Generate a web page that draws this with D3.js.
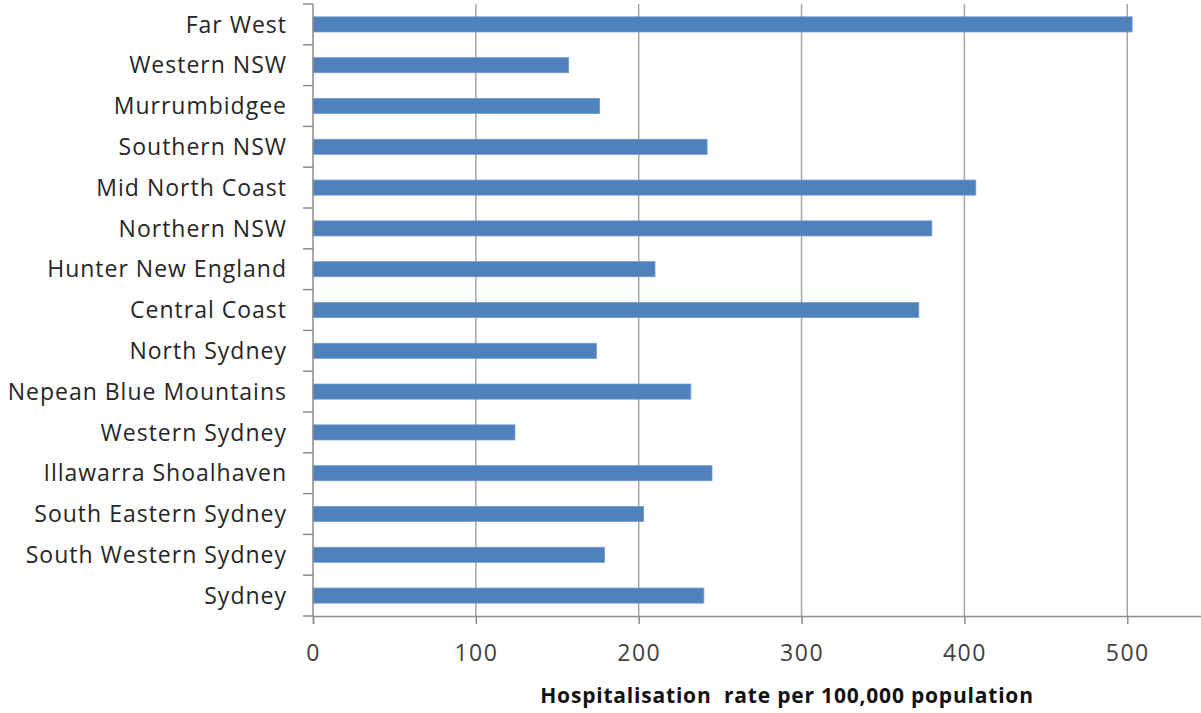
<!DOCTYPE html>
<html>
<head>
<meta charset="utf-8">
<script src="https://cdn.jsdelivr.net/npm/d3@7"></script>
<style>
  html, body { margin: 0; padding: 0; background: #fff; }
  svg { display: block; }
</style>
</head>
<body>
<svg id="chart" width="1201" height="713"></svg>
<script>
// Local Health Districts, top to bottom
const districts = [
  "Far West", "Western NSW", "Murrumbidgee", "Southern NSW", "Mid North Coast",
  "Northern NSW", "Hunter New England", "Central Coast", "North Sydney",
  "Nepean Blue Mountains", "Western Sydney", "Illawarra Shoalhaven",
  "South Eastern Sydney", "South Western Sydney", "Sydney"
];
// Hospitalisation rate per 100,000 population
const rates = [503, 157, 176, 242, 407, 380, 210, 372, 174, 232, 124, 245, 203, 179, 240];
const xTicks = [0, 100, 200, 300, 400, 500];
const xTitle = "Hospitalisation  rate per 100,000 population";

(function () {
  const data = districts.map((d, i) => ({ name: d, value: rates[i] }));

  const svg = d3.select("#chart");
  const plotLeft = 313, plotTop = 4, plotBottom = 616;

  const x = d3.scaleLinear().domain([0, 600]).range([plotLeft, plotLeft + 600 * 1.6285]);
  const y = d3.scaleBand().domain(districts).range([plotTop, plotBottom])
    .paddingInner(0.63).paddingOuter(0.315);

  const axisColor = "#8c8c8c";
  const font = "'Open Sans', 'Noto Sans', sans-serif";

  // vertical gridlines
  svg.append("g").selectAll("line")
    .data(xTicks.filter(t => t > 0))
    .join("line")
    .attr("x1", d => x(d)).attr("x2", d => x(d))
    .attr("y1", plotTop).attr("y2", plotBottom)
    .attr("stroke", "#a6a6a6").attr("stroke-width", 1.5);

  // bars
  svg.append("g").selectAll("rect")
    .data(data)
    .join("rect")
    .attr("x", x(0))
    .attr("y", d => y(d.name))
    .attr("width", d => x(d.value) - x(0))
    .attr("height", y.bandwidth())
    .attr("fill", "#4f81bd")
    .attr("stroke", "#6f9bd0")
    .attr("stroke-width", 0.8);

  // x axis
  const xAxis = d3.axisBottom(x).tickValues(xTicks).tickSize(8).tickPadding(21).tickFormat(d3.format("d"));
  const gx = svg.append("g").attr("transform", `translate(0,${plotBottom})`).call(xAxis);
  gx.select(".domain").attr("stroke", axisColor).attr("stroke-width", 1.5);
  gx.selectAll(".tick line").attr("stroke", axisColor).attr("stroke-width", 1.5);
  gx.selectAll(".tick text")
    .attr("font-family", font).attr("font-size", 23).attr("letter-spacing", 1.5)
    .attr("fill", "#404040");

  // y axis with ticks at band boundaries
  const bounds = d3.range(districts.length + 1)
    .map(i => plotTop + i * (plotBottom - plotTop) / districts.length);
  const gy = svg.append("g");
  gy.append("line")
    .attr("x1", plotLeft).attr("x2", plotLeft).attr("y1", plotTop).attr("y2", plotBottom)
    .attr("stroke", axisColor).attr("stroke-width", 1.5);
  gy.selectAll("line.t")
    .data(bounds)
    .join("line").attr("class", "t")
    .attr("x1", plotLeft - 10).attr("x2", plotLeft)
    .attr("y1", d => d).attr("y2", d => d)
    .attr("stroke", axisColor).attr("stroke-width", 1.5);
  gy.selectAll("text")
    .data(districts)
    .join("text")
    .attr("x", 287)
    .attr("y", d => y(d) + y.bandwidth() / 2)
    .attr("dy", "0.36em")
    .attr("text-anchor", "end")
    .attr("font-family", font).attr("font-size", 23).attr("letter-spacing", 1)
    .attr("fill", "#262626")
    .text(d => d);

  // x axis title
  svg.append("text")
    .attr("x", 787).attr("y", 703)
    .attr("text-anchor", "middle")
    .attr("font-family", font).attr("font-weight", "bold").attr("font-size", 21)
    .attr("letter-spacing", 0.8)
    .attr("fill", "#111")
    .attr("xml:space", "preserve")
    .text(xTitle);
})();
</script>
</body>
</html>
